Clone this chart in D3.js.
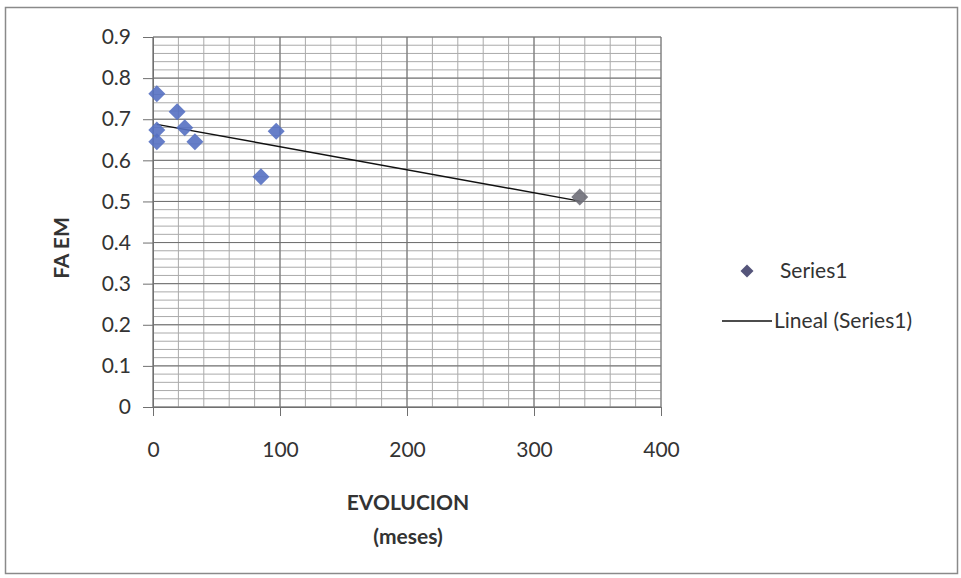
<!DOCTYPE html>
<html>
<head>
<meta charset="utf-8">
<script src="https://cdn.jsdelivr.net/npm/d3@7"></script>
<style>
  body { margin: 0; background: #fff; }
  text { font-family: Lato, "Open Sans", sans-serif; fill: #333; }
</style>
</head>
<body>
<div id="chart"></div>
<script>
// values
var evolucion = [3, 3, 3, 19, 25, 33, 85, 97, 336];
var faEm = [0.762, 0.674, 0.645, 0.718, 0.679, 0.645, 0.560, 0.671, 0.511];
var xTicks = [0, 100, 200, 300, 400];
var yTicks = [0, 0.1, 0.2, 0.3, 0.4, 0.5, 0.6, 0.7, 0.8, 0.9];
var seriesName = "Series1";
var trendName = "Lineal (Series1)";

var W = 961, H = 578;
var margin = {top: 37, right: 300, bottom: 171, left: 153},
    width = W - margin.left - margin.right,
    height = H - margin.top - margin.bottom;

var svg = d3.select("#chart")
  .append("svg")
    .attr("width", W)
    .attr("height", H);

// chart frame
svg.append("rect")
  .attr("x", 5.5).attr("y", 7.5)
  .attr("width", 952).attr("height", 566)
  .attr("fill", "none")
  .attr("stroke", "#8a8a8a")
  .attr("stroke-width", 1.5);

var g = svg.append("g")
  .attr("transform", "translate(" + margin.left + "," + margin.top + ")");

var x = d3.scaleLinear().domain([0, 400]).range([0, width]);
var y = d3.scaleLinear().domain([0, 0.9]).range([height, 0]);

// minor grid
g.append("g")
  .selectAll("line")
  .data(d3.range(0, 401, 20))
  .enter().append("line")
    .attr("x1", d => x(d)).attr("x2", d => x(d))
    .attr("y1", 0).attr("y2", height)
    .attr("stroke", "#aaaaaa").attr("stroke-width", 1);

g.append("g")
  .selectAll("line")
  .data(d3.range(0, 46).map(i => i * 0.02))
  .enter().append("line")
    .attr("x1", 0).attr("x2", width)
    .attr("y1", d => y(d)).attr("y2", d => y(d))
    .attr("stroke", "#aaaaaa").attr("stroke-width", 1);

// major grid
g.append("g")
  .selectAll("line")
  .data(xTicks)
  .enter().append("line")
    .attr("x1", d => x(d)).attr("x2", d => x(d))
    .attr("y1", 0).attr("y2", height)
    .attr("stroke", "#707070").attr("stroke-width", 1);

g.append("g")
  .selectAll("line")
  .data(yTicks)
  .enter().append("line")
    .attr("x1", 0).attr("x2", width)
    .attr("y1", d => y(d)).attr("y2", d => y(d))
    .attr("stroke", "#707070").attr("stroke-width", 1);

// axes
var xAxis = g.append("g")
  .attr("transform", "translate(0," + height + ")")
  .call(d3.axisBottom(x).tickValues(xTicks).tickSize(9).tickPadding(26).tickFormat(d3.format("d")));

var yAxis = g.append("g")
  .call(d3.axisLeft(y).tickValues(yTicks).tickSize(10).tickPadding(12).tickFormat(d => d === 0 ? "0" : d3.format(".1f")(d)));

[xAxis, yAxis].forEach(a => {
  a.select(".domain").attr("stroke", "#707070");
  a.selectAll(".tick line").attr("stroke", "#707070");
  a.selectAll("text")
    .attr("font-family", "Lato, sans-serif")
    .attr("font-size", 21)
    .attr("fill", "#333");
});

// trend line (least squares)
var pts = evolucion.map((d, i) => ({x: d, y: faEm[i]}));
var mx = d3.mean(pts, d => d.x), my = d3.mean(pts, d => d.y);
var slope = d3.sum(pts, d => (d.x - mx) * (d.y - my)) / d3.sum(pts, d => (d.x - mx) * (d.x - mx));
var icpt = my - slope * mx;
var xr = d3.extent(evolucion);

g.append("line")
  .attr("x1", x(xr[0])).attr("y1", y(icpt + slope * xr[0]))
  .attr("x2", x(xr[1])).attr("y2", y(icpt + slope * xr[1]))
  .attr("stroke", "#111").attr("stroke-width", 1.4);

// markers
function diamond(r) {
  return "M0," + (-r) + "L" + r + ",0L0," + r + "L" + (-r) + ",0Z";
}

g.append("g")
  .selectAll("path")
  .data(pts)
  .enter().append("path")
    .attr("d", diamond(8.5))
    .attr("transform", d => "translate(" + x(d.x) + "," + y(d.y) + ")")
    .attr("fill", (d, i) => i === pts.length - 1 ? "#6e6e78" : "#5570c2")
    .attr("opacity", 0.9);

// axis titles
svg.append("text")
  .attr("transform", "translate(69,248) rotate(-90)")
  .attr("text-anchor", "middle")
  .attr("font-size", 21)
  .attr("font-weight", "bold")
  .attr("fill", "#222")
  .text("FA EM");

svg.append("text")
  .attr("x", 408).attr("y", 510)
  .attr("text-anchor", "middle")
  .attr("font-size", 21)
  .attr("font-weight", "bold")
  .attr("fill", "#222")
  .text("EVOLUCION");

svg.append("text")
  .attr("x", 408).attr("y", 544)
  .attr("text-anchor", "middle")
  .attr("font-size", 21)
  .attr("font-weight", "bold")
  .attr("fill", "#222")
  .text("(meses)");

// legend
var leg = svg.append("g");
leg.append("path")
  .attr("d", diamond(6.5))
  .attr("transform", "translate(747,271)")
  .attr("fill", "#55557a");
leg.append("text")
  .attr("x", 780).attr("y", 278)
  .attr("font-size", 21)
  .text(seriesName);
leg.append("line")
  .attr("x1", 722).attr("x2", 772)
  .attr("y1", 321).attr("y2", 321)
  .attr("stroke", "#111").attr("stroke-width", 1.4);
leg.append("text")
  .attr("x", 774).attr("y", 328)
  .attr("font-size", 21)
  .text(trendName);
</script>
</body>
</html>
